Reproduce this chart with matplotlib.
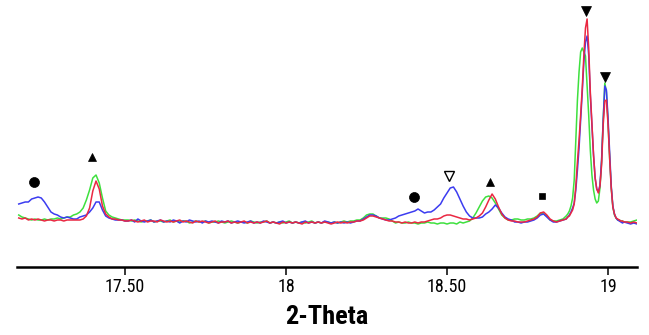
import numpy as np
import matplotlib
matplotlib.use("Agg")
import matplotlib.pyplot as plt

# 2-theta scan positions: 0.01 deg steps, 0.005 deg steps across the strong doublet
two_theta = np.concatenate([
    np.round(np.arange(17.17, 18.875, 0.01), 3),
    np.round(np.arange(18.875, 19.0525, 0.005), 3),
    np.round(np.arange(19.06, 19.095, 0.01), 3),
])

# Intensities (arbitrary units) for the three samples
blue_counts = [
    63, 64, 65, 65, 68, 69, 70, 69, 65, 60, 55, 53, 52, 50, 49, 50, 49, 48, 48, 50,
    51, 52, 55, 59, 65, 65, 57, 51, 49, 48, 47, 47, 47, 46,
    46, 47, 45, 48, 46, 45, 46, 47, 45, 46,
    47, 45, 46, 45, 47, 46, 44, 46, 45, 47,
    46, 45, 46, 44, 46, 45, 46, 45, 44, 46,
    45, 46, 44, 45, 46, 45, 44, 45, 46, 44,
    45, 44, 46, 45, 44, 45, 44, 45, 46, 44,
    45, 44, 45, 44, 45, 46, 44, 45, 44, 45,
    44, 46, 45, 44, 45, 44, 45, 44, 45, 44,
    45, 46,
    46, 48, 50, 52, 52, 51, 49, 48, 47, 47, 48, 49, 51, 52, 53, 54, 55, 56, 58, 56,
    54, 55, 55, 57, 60, 63, 69, 74, 79, 80, 75, 68, 61, 55, 51, 49, 49, 49, 50, 53,
    55, 58, 62, 59, 54, 50, 48, 47,
    45, 45, 44, 45, 45, 46, 47, 49, 52, 53, 50, 47, 45, 45, 46, 47, 48,
    50, 52, 55, 59, 64, 77, 97, 119, 147, 175, 205, 225, 231, 212, 172, 142, 112, 89,
    78, 75, 82, 107, 147, 181, 177, 149, 115, 81, 61, 53, 49, 47, 46, 45, 44, 45,
    44, 43, 44, 43,
]

red_counts = [
    49, 48, 49, 47, 48, 47, 48, 47, 46, 47, 47, 46, 47, 47, 46, 47, 47, 47, 47, 47,
    48, 51, 59, 76, 86, 78, 61, 53, 50, 48, 48, 47, 47, 46,
    46, 47, 46, 45, 46, 47, 45, 46, 46, 45,
    47, 46, 45, 46, 45, 46, 47, 45, 46, 45,
    44, 46, 45, 46, 45, 44, 45, 46, 44, 45,
    45, 46, 44, 45, 44, 45, 46, 44, 45, 44,
    45, 44, 45, 46, 44, 45, 44, 43, 45, 44,
    45, 44, 45, 44, 43, 45, 44, 45, 44, 45,
    44, 45, 44, 43, 44, 45, 44, 45, 44, 45,
    45, 46,
    46, 47, 49, 51, 51, 50, 49, 48, 47, 46, 46, 45, 45, 44, 45, 44, 44, 45, 44, 45,
    45, 46, 47, 48, 48, 49, 51, 52, 52, 51, 50, 49, 48, 48, 47, 48, 49, 51, 54, 60,
    67, 73, 68, 60, 53, 49, 47, 46,
    46, 45, 45, 45, 46, 47, 48, 50, 54, 55, 52, 48, 46, 45, 46, 47, 48,
    50, 51, 54, 57, 63, 81, 105, 127, 152, 179, 212, 239, 248, 219, 175, 143, 112, 89,
    78, 74, 81, 102, 142, 166, 167, 143, 109, 79, 60, 53, 49, 48, 47, 46, 46, 45,
    45, 44, 45, 44,
]

green_counts = [
    52, 50, 49, 48, 47, 48, 47, 47, 48, 47, 48, 48, 49, 48, 49, 50, 50, 52, 53, 55,
    59, 67, 77, 89, 92, 84, 69, 56, 52, 50, 49, 48, 47, 47,
    47, 46, 47, 46, 45, 46, 46, 47, 45, 46,
    46, 45, 46, 47, 45, 46, 45, 46, 46, 44,
    45, 46, 45, 45, 46, 44, 45, 45, 46, 45,
    44, 45, 46, 45, 44, 45, 45, 44, 46, 45,
    44, 45, 45, 46, 44, 45, 44, 45, 44, 45,
    46, 44, 45, 44, 45, 44, 45, 46, 44, 45,
    44, 45, 45, 44, 45, 44, 45, 46, 45, 46,
    46, 47,
    47, 49, 52, 53, 53, 51, 49, 49, 49, 48, 46, 44, 45, 44, 44, 45, 44, 44, 43, 44,
    44, 45, 44, 44, 43, 44, 44, 43, 44, 44, 43, 45, 44, 45, 46, 49, 54, 60, 66, 70,
    71, 69, 64, 58, 52, 49, 47, 47,
    48, 48, 47, 47, 48, 48, 49, 51, 54, 53, 51, 47, 46, 46, 47, 48, 51,
    53, 56, 61, 69, 87, 127, 167, 195, 215, 219, 215, 211, 182, 152, 117, 92, 77, 68,
    64, 66, 79, 105, 147, 184, 175, 145, 109, 79, 60, 52, 49, 47, 47, 46, 46, 45,
    45, 45, 46, 47,
]

# Phase markers: (2-theta, height, marker, filled)
marker_theta = [17.217, 17.398, 18.398, 18.506, 18.634, 18.795, 18.932, 18.991]
marker_height = [85, 110, 70, 91, 85, 71, 256, 190]
marker_shape = ["o", "^", "o", "v", "^", "s", "v", "v"]
marker_filled = [True, True, True, False, True, True, True, True]
marker_size = [7.2, 6.0, 7.2, 6.5, 6.0, 4.8, 7.6, 7.6]

tick_values = [17.5, 18.0, 18.5, 19.0]
tick_labels = ["17.50", "18", "18.50", "19"]

W, H = 649, 335
fig = plt.figure(figsize=(W / 100, H / 100), dpi=100)
ax = fig.add_axes([17 / W, (H - 267) / H, 620 / W, 267 / H])

ax.plot(two_theta, green_counts, color="#3ee03e", lw=1.1)
ax.plot(two_theta, blue_counts, color="#3c3cf0", lw=1.1)
ax.plot(two_theta, red_counts, color="#ea2842", lw=1.1)

for xt, yt, m, filled, ms in zip(marker_theta, marker_height, marker_shape,
                                 marker_filled, marker_size):
    ax.plot([xt], [yt], marker=m, ms=ms, linestyle="none",
            markerfacecolor="black" if filled else "white",
            markeredgecolor="black", markeredgewidth=1.0 if not filled else 0.5,
            clip_on=False)

ax.set_xlim(17.1646, 19.090)
ax.set_ylim(0, 267)

for side in ("top", "left", "right"):
    ax.spines[side].set_visible(False)
ax.spines["bottom"].set_linewidth(1.8)
ax.set_yticks([])

font_family = ["Liberation Sans Narrow", "Roboto Condensed", "Open Sans Condensed",
               "Roboto", "DejaVu Sans"]
ax.set_xticks(tick_values)
ax.set_xticklabels(tick_labels, fontsize=13, family=font_family,
                   fontstretch="condensed")
ax.tick_params(axis="x", direction="out", length=5.8, width=1.1, pad=2)
ax.set_xlabel("2-Theta", fontsize=19, fontweight="bold", family=font_family,
              fontstretch="condensed", labelpad=6.5)

fig.savefig("out.png", dpi=100)
